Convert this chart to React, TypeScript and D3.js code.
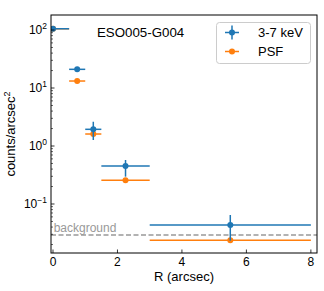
import React, { useEffect, useRef } from 'react';
import * as d3 from 'd3';

// radial profile, bins in arcsec
const binCenter = [0.0, 0.75, 1.25, 2.25, 5.5];
const binLo = [-0.5, 0.5, 1.0, 1.5, 3.0];
const binHi = [0.5, 1.0, 1.5, 3.0, 8.0];

const bandValue = [105, 21, 1.94, 0.452, 0.0435];
const bandErrLo = [98, 19.5, 1.27, 0.296, 0.0233];
const bandErrHi = [112, 22.5, 2.62, 0.574, 0.0646];

const psfValue = [105, 13.2, 1.61, 0.256, 0.0237];

const background = 0.0292;

const xTicks = [0, 2, 4, 6, 8];
const yMajor = [-1, 0, 1, 2];

const BLUE = '#1f77b4';
const ORANGE = '#ff7f0e';
const FONT = "'Liberation Sans', Arial, Helvetica, sans-serif";

export default function App() {
  const ref = useRef<SVGSVGElement | null>(null);

  useEffect(() => {
    document.body.style.margin = '0';
    const svg = d3.select(ref.current);
    svg.selectAll('*').remove();

    const left = 51, right = 317, top = 15, bottom = 253;
    const x = d3.scaleLinear().domain([-0.062, 8.19]).range([left, right]);
    const y = d3.scaleLog().domain([Math.pow(10, -1.845), Math.pow(10, 2.259)]).range([bottom, top]);

    svg.append('defs').append('clipPath').attr('id', 'plotclip')
      .append('rect').attr('x', left).attr('y', top).attr('width', right - left).attr('height', bottom - top);

    const plot = svg.append('g').attr('clip-path', 'url(#plotclip)');

    // background level
    plot.append('line')
      .attr('x1', left).attr('x2', right)
      .attr('y1', y(background)).attr('y2', y(background))
      .attr('stroke', '#999').attr('stroke-width', 1.5).attr('stroke-dasharray', '5,2.5');
    svg.append('text')
      .attr('x', x(0.02)).attr('y', y(background) - 3)
      .attr('fill', '#999').attr('font-size', '12px').attr('font-family', FONT)
      .text('background');

    // PSF
    binCenter.forEach((c, i) => {
      plot.append('line')
        .attr('x1', x(binLo[i])).attr('x2', x(binHi[i]))
        .attr('y1', y(psfValue[i])).attr('y2', y(psfValue[i]))
        .attr('stroke', ORANGE).attr('stroke-width', 1.5);
      plot.append('circle')
        .attr('cx', x(c)).attr('cy', y(psfValue[i])).attr('r', 3).attr('fill', ORANGE);
    });

    // 3-7 keV
    binCenter.forEach((c, i) => {
      plot.append('line')
        .attr('x1', x(binLo[i])).attr('x2', x(binHi[i]))
        .attr('y1', y(bandValue[i])).attr('y2', y(bandValue[i]))
        .attr('stroke', BLUE).attr('stroke-width', 1.5);
      plot.append('line')
        .attr('x1', x(c)).attr('x2', x(c))
        .attr('y1', y(bandErrLo[i])).attr('y2', y(bandErrHi[i]))
        .attr('stroke', BLUE).attr('stroke-width', 1.5);
      plot.append('circle')
        .attr('cx', x(c)).attr('cy', y(bandValue[i])).attr('r', 3).attr('fill', BLUE);
    });

    // frame
    svg.append('rect')
      .attr('x', left).attr('y', top).attr('width', right - left).attr('height', bottom - top)
      .attr('fill', 'none').attr('stroke', '#000').attr('stroke-width', 1);

    // x ticks (inward)
    xTicks.forEach((t) => {
      svg.append('line')
        .attr('x1', x(t)).attr('x2', x(t)).attr('y1', bottom).attr('y2', bottom - 3.5)
        .attr('stroke', '#000').attr('stroke-width', 0.8);
      svg.append('text')
        .attr('x', x(t)).attr('y', bottom + 13)
        .attr('text-anchor', 'middle').attr('font-size', '12px').attr('font-family', FONT)
        .text(String(t));
    });

    // y ticks (log, inward)
    for (let e = -2; e <= 2; e++) {
      for (let m = 1; m <= 9; m++) {
        const v = m * Math.pow(10, e);
        const [lo, hi] = y.domain();
        if (v < lo || v > hi) continue;
        svg.append('line')
          .attr('x1', left).attr('x2', left + (m === 1 ? 3.5 : 2))
          .attr('y1', y(v)).attr('y2', y(v))
          .attr('stroke', '#000').attr('stroke-width', m === 1 ? 0.8 : 0.6);
      }
    }
    yMajor.forEach((e) => {
      const t = svg.append('text')
        .attr('x', left - 4).attr('y', y(Math.pow(10, e)) + 4)
        .attr('text-anchor', 'end').attr('font-size', '12px').attr('font-family', FONT);
      t.append('tspan').text('10');
      t.append('tspan').attr('dy', -5).attr('font-size', '8.5px').text(String(e === -1 ? '\u22121' : e));
    });

    // axis labels
    svg.append('text')
      .attr('x', (left + right) / 2).attr('y', 281)
      .attr('text-anchor', 'middle').attr('font-size', '13px').attr('font-family', FONT)
      .text('R (arcsec)');
    const yl = svg.append('text')
      .attr('transform', `translate(15,${(top + bottom) / 2}) rotate(-90)`)
      .attr('text-anchor', 'middle').attr('font-size', '13px').attr('font-family', FONT);
    yl.append('tspan').text('counts/arcsec');
    yl.append('tspan').attr('dy', -5).attr('font-size', '9px').text('2');

    // title
    svg.append('text')
      .attr('x', 97).attr('y', 37)
      .attr('font-size', '13.3px').attr('font-family', FONT)
      .text('ESO005-G004');

    // legend
    const lg = svg.append('g');
    lg.append('rect')
      .attr('x', 216.5).attr('y', 22.5).attr('width', 94).attr('height', 41).attr('rx', 3)
      .attr('fill', '#fff').attr('stroke', '#ccc').attr('stroke-width', 1);
    const mx = 232;
    const r1 = 32.5, r2 = 51.5;
    lg.append('line').attr('x1', mx - 7).attr('x2', mx + 7).attr('y1', r1).attr('y2', r1)
      .attr('stroke', BLUE).attr('stroke-width', 1.5);
    lg.append('line').attr('x1', mx).attr('x2', mx).attr('y1', r1 - 7).attr('y2', r1 + 7)
      .attr('stroke', BLUE).attr('stroke-width', 1.5);
    lg.append('circle').attr('cx', mx).attr('cy', r1).attr('r', 3).attr('fill', BLUE);
    lg.append('line').attr('x1', mx - 7).attr('x2', mx + 7).attr('y1', r2).attr('y2', r2)
      .attr('stroke', ORANGE).attr('stroke-width', 1.5);
    lg.append('circle').attr('cx', mx).attr('cy', r2).attr('r', 3).attr('fill', ORANGE);
    lg.append('text').attr('x', 258).attr('y', r1 + 4.5)
      .attr('font-size', '13px').attr('font-family', FONT).text('3-7 keV');
    lg.append('text').attr('x', 258).attr('y', r2 + 4.5)
      .attr('font-size', '13px').attr('font-family', FONT).text('PSF');
  }, []);

  return <svg ref={ref} width={324} height={291} style={{ display: 'block', background: '#fff' }} />;
}
